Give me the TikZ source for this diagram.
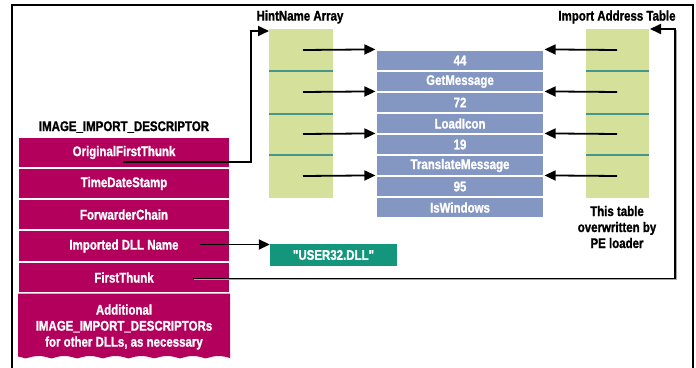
\documentclass[tikz,border=0pt]{standalone}
\usepackage{fontspec}
\newfontfamily\cond[FakeStretch=0.82, BoldFeatures={FakeBold=1.2}]{Liberation Sans}
\usetikzlibrary{arrows.meta}
\definecolor{mag}{RGB}{178,0,92}
\definecolor{grn}{RGB}{213,224,155}
\definecolor{blu}{RGB}{132,150,194}
\definecolor{sep}{RGB}{70,150,140}
\definecolor{dllbox}{RGB}{20,150,125}
\tikzset{
  lbl/.style={font=\cond\bfseries\fontsize{14}{16}\selectfont, inner sep=0pt},
  descrow/.style={lbl, fill=mag, draw=white, line width=1.2pt, text=white,
    minimum width=212pt, minimum height=31pt},
  namerow/.style={lbl, fill=blu, draw=white, line width=1.2pt, text=white,
    minimum width=168pt, minimum height=21pt},
  arr/.style={draw=black, line width=1.8pt, -{Triangle[length=11pt,width=10pt]}},
}
\begin{document}
\begin{tikzpicture}[x=1pt,y=-1pt]
\useasboundingbox (0,0) rectangle (696,367);
\fill[white] (0,0) rectangle (696,367);
% outer frame
\draw[line width=2pt] (12,370) -- (12,5) -- (693,5) -- (693,370);

% IMAGE_IMPORT_DESCRIPTOR
\node[lbl] (desc) at (124,127) {IMAGE\_IMPORT\_DESCRIPTOR};
\node[descrow] (oft) at (124,152.5) {OriginalFirstThunk};
\node[descrow] (tds) at (124,183.5) {TimeDateStamp};
\node[descrow] (fwd) at (124,214.5) {ForwarderChain};
\node[descrow] (dll) at (124,246) {Imported DLL Name};
\node[descrow] (ft)  at (124,277.5) {FirstThunk};
% torn-off block of further descriptors
\fill[mag] (18,293.6) -- (230,293.6) -- (230,359)
  -- plot[domain=230:18, samples=120] (\x, {358.5 - 2.5*abs(sin(\x*7))}) -- cycle;
\node[lbl, text=white, align=center] (more) at (124,327)
  {Additional\\IMAGE\_IMPORT\_DESCRIPTORs\\for other DLLs, as necessary};

% Hint/Name array
\node[lbl] (hntitle) at (300,17) {HintName Array};
\node[fill=grn, minimum width=64pt, minimum height=169pt, inner sep=0] (hn) at (301,113.5) {};
\foreach \y in {71,114,155} \draw[sep, line width=1.6pt] (269,\y) -- (333,\y);

% Import Address Table
\node[lbl] (iattitle) at (617,17) {Import Address Table};
\node[fill=grn, minimum width=63pt, minimum height=169pt, inner sep=0] (iat) at (617.5,113.5) {};
\foreach \y in {71,114,155} \draw[sep, line width=1.6pt] (586,\y) -- (649,\y);
\node[lbl, align=center] (note) at (617,227) {This table\\overwritten by\\PE loader};

% hint / name entries
\node[namerow] (r1) at (460,60.5)  {44};
\node[namerow] (r2) at (460,81.5)  {GetMessage};
\node[namerow] (r3) at (460,102.5) {72};
\node[namerow] (r4) at (460,123.5) {LoadIcon};
\node[namerow] (r5) at (460,144.5) {19};
\node[namerow] (r6) at (460,165.5) {TranslateMessage};
\node[namerow] (r7) at (460,186.5) {95};
\node[namerow] (r8) at (460,207.5) {IsWindows};

% DLL name string
\node[lbl, fill=dllbox, text=white, minimum width=127pt, minimum height=22pt] (user) at (333.5,255) {"USER32.DLL"};

% pointers from both thunk arrays into the hint/name entries
\coordinate (h1) at (303,50);  \coordinate (h2) at (303,92);
\coordinate (h3) at (303,134); \coordinate (h4) at (303,176);
\coordinate (i1) at (617,50);  \coordinate (i2) at (617,92);
\coordinate (i3) at (617,134); \coordinate (i4) at (617,176);
\draw[arr] (h1) -- (r1.north west);
\draw[arr] (h2) -- (r3.north west);
\draw[arr] (h3) -- (r5.north west);
\draw[arr] (h4) -- (r7.north west);
\draw[arr] (i1) -- (r1.north east);
\draw[arr] (i2) -- (r3.north east);
\draw[arr] (i3) -- (r5.north east);
\draw[arr] (i4) -- (r7.north east);

% descriptor fields pointing to their targets
\coordinate (oftA) at (123,162);
\coordinate (oftBend) at (251,0);
\coordinate (hnIn) at (269,31);
\draw[arr] (oftA) -| (oftBend |- hnIn) -- (hnIn);

\coordinate (dllA) at (200,244.5);
\draw[arr] (dllA) -- (dllA -| user.west);

\coordinate (ftA) at (193,278.5);
\coordinate (ftBend) at (675,0);
\coordinate (iatIn) at (650,29);
\draw[black!35, line width=1.4pt] ([shift={(1,1)}]ftA) -| ([shift={(1,1)}]ftBend |- iatIn);
\draw[arr] (ftA) -| (ftBend |- iatIn) -- (iatIn);
\end{tikzpicture}
\end{document}
